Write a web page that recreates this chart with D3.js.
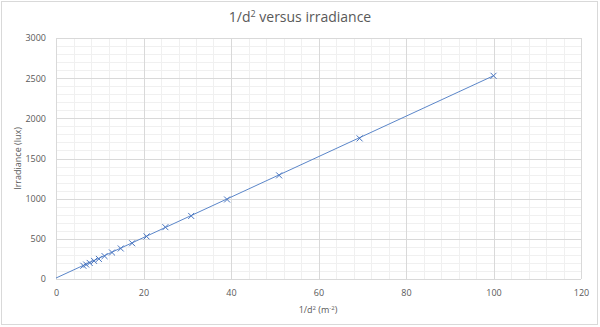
<!DOCTYPE html>
<html><head><meta charset="utf-8">
<script src="https://cdn.jsdelivr.net/npm/d3@7"></script>
<style>body{margin:0;background:#fff;} text{font-family:"Open Sans","Liberation Sans",sans-serif;}</style>
</head><body><svg id="c" width="600" height="327"></svg>
<script>
const invD2 = [100, 69.4, 51.0, 39.1, 30.9, 25.0, 20.7, 17.4, 14.8, 12.8, 11.1, 9.8, 8.7, 7.7, 6.9, 6.25];
const irradiance = [2530, 1750, 1290, 990, 785, 645, 530, 445, 380, 330, 285, 250, 225, 200, 180, 165];
const trendX = [0, 100];
const trendY = [12, 2530];
const xTicks = [0, 20, 40, 60, 80, 100, 120];
const yTicks = [0, 500, 1000, 1500, 2000, 2500, 3000];

const svg = d3.select("#c");
const L = 56, R = 581, T = 38, B = 279;
const x = d3.scaleLinear().domain([0, 120]).range([L, R]);
const y = d3.scaleLinear().domain([0, 3000]).range([B, T]);

svg.append("rect").attr("x", 1.5).attr("y", 1.5).attr("width", 596).attr("height", 323)
  .attr("fill", "#fff").attr("stroke", "#d9d9d9");

// minor grid
const minorX = d3.range(0, 121, 4), minorY = d3.range(0, 3001, 100);
svg.append("g").selectAll("line").data(minorX).join("line")
  .attr("x1", d => Math.round(x(d)) + 0.5).attr("x2", d => Math.round(x(d)) + 0.5)
  .attr("y1", T).attr("y2", B).attr("stroke", "#f0f0f0");
svg.append("g").selectAll("line").data(minorY).join("line")
  .attr("y1", d => Math.round(y(d)) + 0.5).attr("y2", d => Math.round(y(d)) + 0.5)
  .attr("x1", L).attr("x2", R).attr("stroke", "#f0f0f0");
// major grid
svg.append("g").selectAll("line").data(xTicks).join("line")
  .attr("x1", d => Math.round(x(d)) + 0.5).attr("x2", d => Math.round(x(d)) + 0.5)
  .attr("y1", T).attr("y2", B).attr("stroke", "#d9d9d9");
svg.append("g").selectAll("line").data(yTicks).join("line")
  .attr("y1", d => Math.round(y(d)) + 0.5).attr("y2", d => Math.round(y(d)) + 0.5)
  .attr("x1", L).attr("x2", R).attr("stroke", "#d9d9d9");

// axes labels via d3 axes
const xa = svg.append("g").attr("transform", `translate(0,${B + 6})`)
  .call(d3.axisBottom(x).tickValues(xTicks).tickFormat(d3.format("d")).tickSize(0).tickPadding(5));
const ya = svg.append("g").attr("transform", `translate(${L - 8},0)`)
  .call(d3.axisLeft(y).tickValues(yTicks).tickFormat(d3.format("d")).tickSize(0).tickPadding(2));
[xa, ya].forEach(g => {
  g.select(".domain").remove();
  g.selectAll("text").attr("fill", "#595959").attr("font-size", 9)
    .attr("font-family", "'Open Sans','Liberation Sans',sans-serif");
});

// trendline
svg.append("path").datum(trendX.map((d, i) => [d, trendY[i]]))
  .attr("d", d3.line().x(d => x(d[0])).y(d => y(d[1])))
  .attr("fill", "none").attr("stroke", "#5b86c9").attr("stroke-width", 1);

// markers
const s = 3;
const pts = invD2.map((d, i) => [x(d), y(irradiance[i])]);
svg.append("g").selectAll("path").data(pts).join("path")
  .attr("d", d => `M${d[0]-s},${d[1]-s}L${d[0]+s},${d[1]+s}M${d[0]-s},${d[1]+s}L${d[0]+s},${d[1]-s}`)
  .attr("stroke", "#4a76c0").attr("stroke-width", 1).attr("fill", "none");

// title
const title = svg.append("text").attr("x", 300).attr("y", 22).attr("text-anchor", "middle")
  .attr("fill", "#595959").attr("font-size", 14);
title.append("tspan").text("1/d");
title.append("tspan").attr("font-size", 9).attr("dy", -5).text("2");
title.append("tspan").attr("dy", 5).text(" versus irradiance");

// x title
const xt = svg.append("text").attr("x", 318).attr("y", 313).attr("text-anchor", "middle")
  .attr("fill", "#595959").attr("font-size", 9);
xt.append("tspan").text("1/d");
xt.append("tspan").attr("font-size", 6).attr("dy", -3).text("2");
xt.append("tspan").attr("dy", 3).text(" (m");
xt.append("tspan").attr("font-size", 6).attr("dy", -3).text("-2");
xt.append("tspan").attr("dy", 3).text(")");

// y title
svg.append("text").attr("transform", `translate(21,${(T + B) / 2}) rotate(-90)`)
  .attr("text-anchor", "middle").attr("fill", "#595959").attr("font-size", 9)
  .text("Irradiance (lux)");
</script></body></html>
